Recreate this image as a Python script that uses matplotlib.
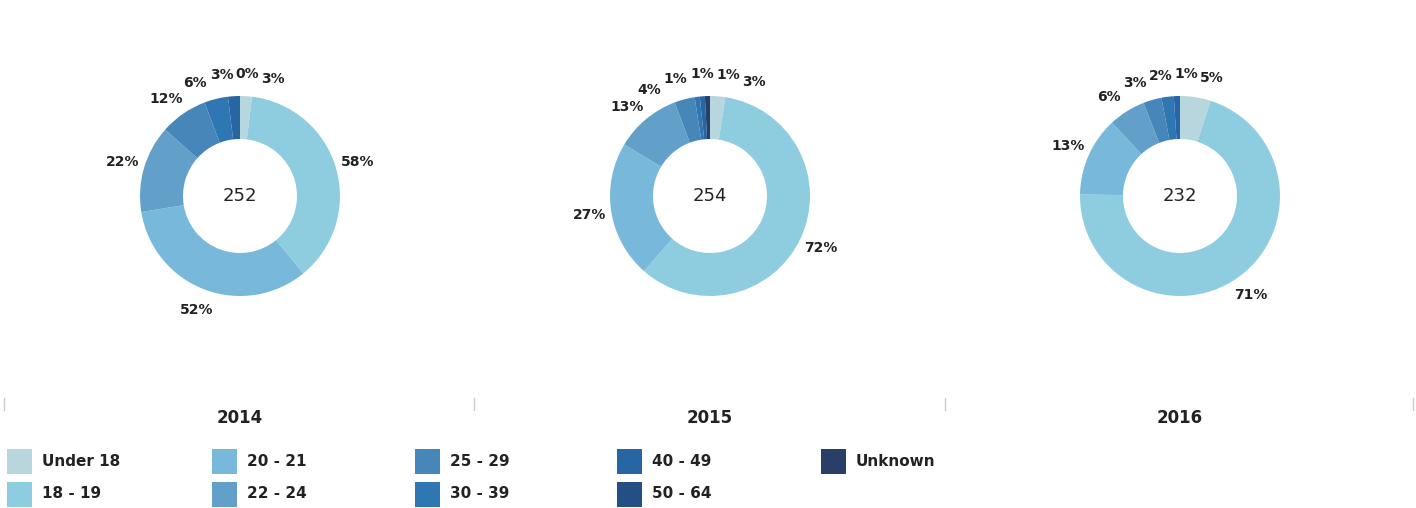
import numpy as np
import matplotlib
matplotlib.use("Agg")
import matplotlib.pyplot as plt
from matplotlib.patches import Rectangle

# data
categories = ["Under 18", "18 - 19", "20 - 21", "22 - 24", "25 - 29",
              "30 - 39", "40 - 49", "50 - 64", "Unknown"]
colors = ["#b8d6dd", "#8ecde0", "#78b8da", "#62a0ca", "#4686b8",
          "#2f77b3", "#2865a3", "#234f84", "#283f68"]
years = ["2014", "2015", "2016"]
totals = [252, 254, 232]
values_2014 = [3, 58, 52, 22, 12, 6, 3, 0, None]
values_2015 = [3, 72, 27, 13, 4, 1, 1, None, 1]
values_2016 = [5, 71, 13, 6, 3, 2, 1, None, None]
all_values = [values_2014, values_2015, values_2016]

W, H = 1416, 508
fig = plt.figure(figsize=(W / 100, H / 100), dpi=100)
plt.rcParams['font.family'] = ['DejaVu Sans']

centers_x = [240, 710, 1180]
center_y = 196
R_PX = 100  # outer radius in pixels
LABEL_R = 1.22


def label_width(txt):
    '''
    rough width of a label in data units (1 unit = 100 px) at 10pt bold
    '''
    return sum(0.139 if ch == '%' else 0.097 for ch in txt)


def spread_labels(angles, texts, n_iter=600):
    '''
    nudge label angles (degrees, cw from top) apart until their boxes no longer overlap
    '''
    a = np.array(angles, dtype=float)
    a = np.where(a > 180, a - 360, a)  # so the labels around 12 o'clock sort next to each other
    widths = [label_width(t) for t in texts]
    for _ in range(n_iter):
        moved = False
        order = np.argsort(a)
        for k in range(len(order) - 1):
            i, j = order[k], order[k + 1]
            xi, yi = LABEL_R * np.sin(np.radians(a[i])), LABEL_R * np.cos(np.radians(a[i]))
            xj, yj = LABEL_R * np.sin(np.radians(a[j])), LABEL_R * np.cos(np.radians(a[j]))
            need = (widths[i] + widths[j]) / 2 + 0.02
            if abs(xi - xj) < need and abs(yi - yj) < 0.16:
                a[i] -= 0.4
                a[j] += 0.4
                moved = True
        if not moved:
            break
    return a


for cx, vals, total, year in zip(centers_x, all_values, totals, years):
    # axes 300x300 px around the donut, data units: 1 = outer radius
    size = 3 * R_PX
    ax = fig.add_axes([(cx - size / 2) / W, 1 - (center_y + size / 2) / H, size / W, size / H])

    present = [(v, c) for v, c in zip(vals, colors) if v is not None]
    sizes = [p[0] for p in present]
    cols = [p[1] for p in present]
    ax.pie(sizes, colors=cols, startangle=90, counterclock=False, radius=1.0,
           wedgeprops=dict(width=0.43, linewidth=0))
    ax.set_xlim(-1.5, 1.5)
    ax.set_ylim(-1.5, 1.5)
    ax.set_aspect('equal')
    ax.axis('off')

    # label angles at wedge middles, clockwise from 12 o'clock
    total_v = float(sum(sizes))
    cum = np.cumsum([0] + sizes)
    mids = [(cum[k] + sizes[k] / 2) / total_v * 360 for k in range(len(sizes))]
    texts = [f"{v}%" for v in sizes]
    mids = spread_labels(mids, texts)
    for txt, ang in zip(texts, mids):
        x = LABEL_R * np.sin(np.radians(ang))
        y = LABEL_R * np.cos(np.radians(ang))
        ax.text(x, y, txt, ha='center', va='center', fontsize=10,
                fontweight='bold', color='#222222')

    ax.text(0, 0, str(total), ha='center', va='center', fontsize=13, color='#222222')

    fig.text(cx / W, 1 - 418 / H, year, ha='center', va='center', fontsize=12,
             fontweight='bold', color='#222222')

# small separator ticks above the year titles
for tx in [4, 474, 945, 1413]:
    fig.add_artist(plt.Line2D([tx / W, tx / W], [1 - 398 / H, 1 - 410 / H],
                              color='#cccccc', linewidth=1))

# legend, filled column by column
col_x = [7, 212, 415, 617, 821]
row_y = [461, 494]
sw = 25
for k, (cat, col) in enumerate(zip(categories, colors)):
    x0 = col_x[k // 2]
    y0 = row_y[k % 2]
    fig.add_artist(Rectangle((x0 / W, 1 - (y0 + sw / 2) / H), sw / W, sw / H,
                             facecolor=col, edgecolor='none'))
    fig.text((x0 + 35) / W, 1 - y0 / H, cat, ha='left', va='center', fontsize=11,
             fontweight='bold', color='#222222')

fig.savefig("out.png", dpi=100)
